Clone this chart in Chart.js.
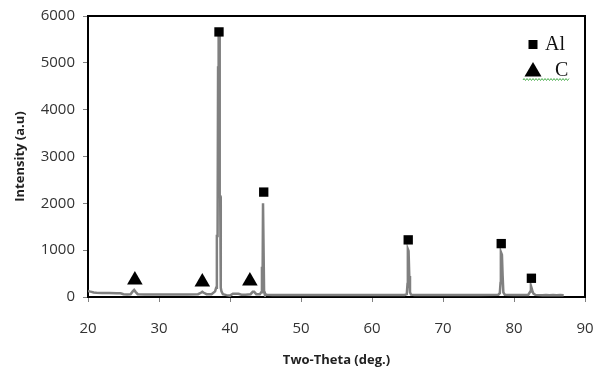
<!DOCTYPE html>
<html>
<head>
<meta charset="utf-8">
<script src="https://cdn.jsdelivr.net/npm/chart.js@4/dist/chart.umd.min.js"></script>
<style>
html,body{margin:0;padding:0;background:#fff;}
#wrap{width:603px;height:368px;position:relative;}
</style>
</head>
<body>
<div id="wrap"><canvas id="c" width="603" height="368"></canvas></div>
<script>
// ---- data ----
const twoTheta = [20.0,20.2,20.5,20.8,21.2,22.0,23.0,24.0,24.6,25.0,
  25.5,26.0,26.3,26.5,26.7,27.0,28.0,30.0,32.0,34.0,
  35.5,35.9,36.1,36.3,36.7,37.4,37.9,38.05,38.15,38.25,
  38.32,38.4,38.5,38.55,38.62,38.7,38.8,39.0,39.5,40.0,
  40.4,40.8,41.2,41.6,42.2,42.9,43.2,43.4,43.7,44.2,
  44.4,44.5,44.6,44.65,44.75,44.8,44.9,45.2,46.0,50.0,
  55.0,60.0,64.6,64.9,65.0,65.05,65.15,65.25,65.35,65.5,
  66.0,70.0,75.0,77.8,78.0,78.1,78.15,78.3,78.4,78.5,
  78.7,80.0,82.0,82.3,82.38,82.5,82.6,82.75,83.0,83.5,
  84.0,84.5,85.0,85.5,86.0,86.5,87.0];
const intensity = [130,120,110,95,90,85,85,80,80,60,
  55,60,120,150,110,60,55,55,55,55,
  60,90,110,90,60,60,120,200,1300,1300,
  4900,5580,5580,2150,2150,200,120,60,40,30,
  70,70,70,50,50,60,110,110,60,60,
  100,620,620,2000,2000,120,60,50,45,45,
  45,45,45,60,280,1020,980,450,100,50,
  45,45,45,50,80,300,960,900,450,100,
  50,45,45,120,240,180,120,70,45,40,
  35,40,35,40,35,40,35];
const alMarkX = [38.45, 44.75, 65.1, 78.2, 82.45];
const alMarkY = [5660, 2240, 1220, 1140, 400];
const cMarkX = [26.6, 36.1, 42.8];
const cMarkY = [365, 320, 340];
const xTicks = [20,30,40,50,60,70,80,90];
const yTicks = [0,1000,2000,3000,4000,5000,6000];
const legendLabels = ['Al','C'];
const xTitle = 'Two-Theta (deg.)';
const yTitle = 'Intensity (a.u)';

const lineData = twoTheta.map((x,i)=>({x:x,y:intensity[i]}));
const alData = alMarkX.map((x,i)=>({x:x,y:alMarkY[i]}));
const cData = cMarkX.map((x,i)=>({x:x,y:cMarkY[i]}));

const frameAndLegend = {
  id:'frameAndLegend',
  afterDraw(chart){
    const ctx = chart.ctx, a = chart.chartArea;
    ctx.save();
    ctx.strokeStyle = '#000';
    ctx.lineWidth = 2;
    ctx.beginPath();
    ctx.moveTo(a.left-1, a.top);
    ctx.lineTo(a.right, a.top);
    ctx.lineTo(a.right, a.bottom+1);
    ctx.stroke();
    // legend
    ctx.fillStyle = '#000';
    ctx.fillRect(528.5, 40, 9, 9);
    ctx.beginPath();
    ctx.moveTo(533, 62);
    ctx.lineTo(541.5, 76.5);
    ctx.lineTo(524.5, 76.5);
    ctx.closePath();
    ctx.fill();
    ctx.fillStyle = '#111';
    ctx.font = '20px "Liberation Serif"';
    ctx.textBaseline = 'alphabetic';
    ctx.textAlign = 'left';
    ctx.fillText(legendLabels[0], 545, 50);
    ctx.fillText(legendLabels[1], 555, 76);
    // spell-check wavy underline
    ctx.strokeStyle = '#4caf50';
    ctx.lineWidth = 1;
    ctx.beginPath();
    let up = true;
    ctx.moveTo(523, 80);
    for (let x = 524; x <= 570; x += 1.5) { ctx.lineTo(x, up ? 78.5 : 80.5); up = !up; }
    ctx.stroke();
    ctx.restore();
  }
};

new Chart(document.getElementById('c'), {
  type:'scatter',
  data:{datasets:[
    {label:'pattern', data:lineData, showLine:true, borderColor:'#808080', borderWidth:2.5,
     pointRadius:0, tension:0, order:2},
    {label:legendLabels[0], data:alData, pointStyle:'rect', pointRadius:6.6,
     backgroundColor:'#000', borderColor:'#000', borderWidth:0, showLine:false, order:1},
    {label:legendLabels[1], data:cData, pointStyle:'triangle', pointRadius:9,
     backgroundColor:'#000', borderColor:'#000', borderWidth:0, showLine:false, order:1}
  ]},
  options:{
    responsive:false, animation:false,
    layout:{padding:{top:16,right:18,left:0,bottom:0}},
    plugins:{legend:{display:false}, tooltip:{enabled:false}},
    scales:{
      x:{type:'linear', min:20, max:90,
        afterBuildTicks(s){ s.ticks = xTicks.map(v=>({value:v})); },
        afterFit(s){ s.height = 71; s.paddingLeft = 0; s.paddingRight = 0; },
        grid:{display:true, drawOnChartArea:false, drawTicks:true, tickLength:5, color:'#808080', lineWidth:1},
        border:{display:true, color:'#000', width:2},
        ticks:{color:'#333', font:{family:'"Open Sans"', size:15}, padding:18, maxRotation:0,
          callback:(v)=>String(v)},
        title:{display:true, text:xTitle, color:'#222', font:{family:'"Open Sans"', size:13, weight:'bold'}, padding:{top:4,bottom:0}}
      },
      y:{type:'linear', min:0, max:6000,
        afterBuildTicks(s){ s.ticks = yTicks.map(v=>({value:v})); },
        afterFit(s){ s.width = 88; s.paddingTop = 0; s.paddingBottom = 0; },
        grid:{display:true, drawOnChartArea:false, drawTicks:true, tickLength:5, color:'#808080', lineWidth:1},
        border:{display:true, color:'#000', width:2},
        ticks:{color:'#333', font:{family:'"Open Sans"', size:15}, padding:8,
          callback:(v)=>String(v)},
        title:{display:true, text:yTitle, color:'#222', font:{family:'"Open Sans"', size:13, weight:'bold'}, padding:{top:12,bottom:0}}
      }
    }
  },
  plugins:[frameAndLegend]
});
</script>
</body>
</html>
